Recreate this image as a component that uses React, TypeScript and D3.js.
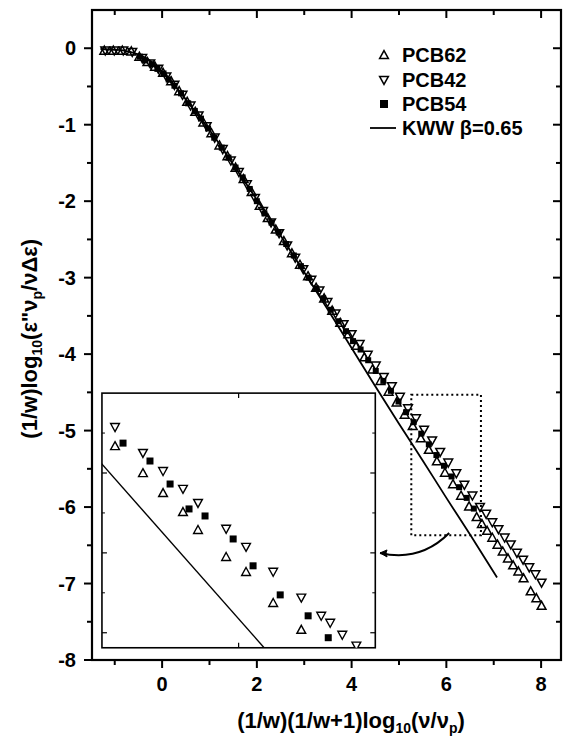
import React from "react";
import * as d3 from "d3";

const W = 563;
const H = 736;

// axis ticks
const xMajor = [0, 2, 4, 6, 8];
const xMinor = [-1, 1, 3, 5, 7];
const yMajor = [0, -1, -2, -3, -4, -5, -6, -7, -8];
const yMinor = [-0.5, -1.5, -2.5, -3.5, -4.5, -5.5, -6.5, -7.5];

// PCB62 (open up-triangles)
const pcb62X = [-1.22, -1.03, -0.84, -0.65, -0.48, -0.31, -0.15, 0.02, 0.19, 0.36, 0.53, 0.7, 0.87, 1.04, 1.21, 1.38, 1.55, 1.72, 1.89, 2.06, 2.23, 2.4, 2.57, 2.74, 2.91, 3.08, 3.25, 3.42, 3.59, 3.76, 3.93, 4.1, 4.27, 4.44, 4.61, 4.78, 4.95, 5.12, 5.29, 5.46, 5.63, 5.8, 5.97, 6.14, 6.31, 6.48, 6.64, 6.75, 6.86, 6.97, 7.08, 7.19, 7.3, 7.41, 7.52, 7.63, 7.78, 7.9, 8.01];
const pcb62Y = [-0.03, -0.03, -0.03, -0.04, -0.11, -0.18, -0.24, -0.32, -0.43, -0.56, -0.7, -0.83, -0.97, -1.11, -1.27, -1.41, -1.56, -1.71, -1.88, -2.06, -2.22, -2.37, -2.52, -2.68, -2.83, -2.98, -3.13, -3.27, -3.43, -3.59, -3.74, -3.89, -4.04, -4.2, -4.35, -4.49, -4.63, -4.79, -4.94, -5.1, -5.25, -5.4, -5.55, -5.7, -5.85, -5.99, -6.13, -6.22, -6.31, -6.4, -6.49, -6.58, -6.67, -6.76, -6.84, -6.93, -7.1, -7.19, -7.29];

// PCB42 (open down-triangles)
const pcb42X = [-1.2, -1.01, -0.82, -0.63, -0.42, -0.25, -0.08, 0.09, 0.26, 0.43, 0.6, 0.77, 0.94, 1.11, 1.28, 1.45, 1.62, 1.79, 1.96, 2.13, 2.3, 2.47, 2.64, 2.81, 2.98, 3.15, 3.32, 3.49, 3.66, 3.83, 4.0, 4.17, 4.34, 4.51, 4.68, 4.85, 5.02, 5.19, 5.36, 5.53, 5.7, 5.87, 6.04, 6.21, 6.38, 6.55, 6.71, 6.84, 6.97, 7.1, 7.23, 7.36, 7.49, 7.62, 7.75, 7.88, 8.01];
const pcb42Y = [-0.03, -0.03, -0.03, -0.05, -0.13, -0.2, -0.27, -0.37, -0.48, -0.61, -0.75, -0.88, -1.02, -1.17, -1.32, -1.47, -1.62, -1.78, -1.96, -2.13, -2.28, -2.42, -2.58, -2.74, -2.89, -3.03, -3.17, -3.32, -3.47, -3.61, -3.74, -3.87, -4.01, -4.15, -4.3, -4.42, -4.56, -4.71, -4.84, -4.99, -5.13, -5.28, -5.42, -5.56, -5.71, -5.85, -6.0, -6.09, -6.2, -6.29, -6.4, -6.49, -6.6, -6.69, -6.79, -6.88, -6.99];

// PCB54 (filled squares)
const pcb54X = [-0.47, -0.36, -0.22, -0.1, 0.03, 0.14, 0.26, 0.4, 0.55, 0.69, 0.82, 0.97, 1.1, 1.26, 1.4, 1.55, 1.7, 1.85, 2.0, 2.16, 2.31, 2.46, 2.62, 2.78, 2.93, 3.09, 3.25, 3.4, 3.56, 3.72, 3.88, 4.03, 4.19, 4.35, 4.51, 4.67, 4.83, 4.99, 5.15, 5.31, 5.47, 5.63, 5.79, 5.95, 6.11, 6.27, 6.43, 6.58];
const pcb54Y = [-0.11, -0.16, -0.21, -0.27, -0.33, -0.41, -0.49, -0.59, -0.72, -0.82, -0.92, -1.05, -1.17, -1.3, -1.43, -1.56, -1.69, -1.84, -2.0, -2.16, -2.28, -2.41, -2.56, -2.71, -2.85, -3.0, -3.14, -3.27, -3.42, -3.57, -3.7, -3.83, -3.94, -4.08, -4.22, -4.35, -4.48, -4.62, -4.76, -4.89, -5.04, -5.18, -5.32, -5.46, -5.6, -5.74, -5.88, -6.02];

// KWW beta=0.65 curve
const kwwX = [-1.3, -1.0, -0.8, -0.6, -0.4, -0.2, 0, 0.2, 0.4, 0.6, 0.8, 1.0, 1.25, 1.5, 1.75, 2.0, 2.5, 3.0, 3.5, 4.0, 4.5, 5.0, 5.5, 6.0, 6.5, 7.07];
const kwwY = [-0.01, -0.02, -0.03, -0.06, -0.11, -0.19, -0.31, -0.44, -0.59, -0.75, -0.91, -1.07, -1.29, -1.52, -1.75, -1.98, -2.45, -2.93, -3.42, -3.92, -4.42, -4.91, -5.39, -5.88, -6.36, -6.92];

// zoomed region (dotted box) and inset placement, in main-plot data units
const boxX = [5.26, 6.73];
const boxY = [-4.53, -6.37];
const insetPosX = [-1.27, 4.5];
const insetPosY = [-4.51, -7.84];
const arrowX = [6.06, 5.45, 4.6];
const arrowY = [-6.34, -6.72, -6.6];

// inset axes
const insetDomX = [5.3, 6.7];
const insetDomY = [-4.5, -6.094];
const insetXMajor = [6.0];
const insetYMajor = [-5.0, -5.5, -6.0];
const insetYMinor = [-4.75, -5.25, -5.75];

// inset data
const inPcb42X = [5.367, 5.51, 5.613, 5.715, 5.792, 5.936, 6.038, 6.177, 6.321, 6.423, 6.469, 6.531, 6.603];
const inPcb42Y = [-4.713, -4.875, -4.988, -5.1, -5.188, -5.35, -5.463, -5.619, -5.781, -5.894, -5.938, -6.013, -6.081];
const inPcb62X = [5.367, 5.51, 5.613, 5.715, 5.792, 5.936, 6.038, 6.177, 6.321];
const inPcb62Y = [-4.831, -5.0, -5.125, -5.244, -5.356, -5.525, -5.619, -5.813, -5.981];
const inPcb54X = [5.408, 5.546, 5.649, 5.746, 5.828, 5.972, 6.074, 6.213, 6.356, 6.459];
const inPcb54Y = [-4.813, -4.925, -5.069, -5.225, -5.269, -5.413, -5.581, -5.763, -5.894, -6.031];
const inKwwX = [5.25, 6.2];
const inKwwY = [-4.875, -6.19];

const legendLabels = ["PCB62", "PCB42", "PCB54", "KWW \u03b2=0.65"];

const FONT = "'Liberation Sans', Arial, Helvetica, sans-serif";

const triUp = (cx: number, cy: number, s: number) =>
  `M${cx},${cy - s * 0.55}L${cx + s * 0.55},${cy + s * 0.45}L${cx - s * 0.55},${cy + s * 0.45}Z`;
const triDown = (cx: number, cy: number, s: number) =>
  `M${cx},${cy + s * 0.55}L${cx + s * 0.55},${cy - s * 0.45}L${cx - s * 0.55},${cy - s * 0.45}Z`;

export default function App() {
  const x = d3.scaleLinear().domain([-1.48, 8.42]).range([92, 561]);
  const y = d3.scaleLinear().domain([-8, 0.5]).range([660, 10]);

  const x0 = x(-1.48), x1 = x(8.42), y0 = y(-8), y1 = y(0.5);

  const ix = d3.scaleLinear().domain(insetDomX).range([x(insetPosX[0]), x(insetPosX[1])]);
  const iy = d3.scaleLinear().domain(insetDomY).range([y(insetPosY[0]), y(insetPosY[1])]);
  const ixa = ix.range(), iya = iy.range();

  const line = d3.line<[number, number]>().x((d) => x(d[0])).y((d) => y(d[1])).curve(d3.curveMonotoneX);
  const kwwPath = line(kwwX.map((v, i) => [v, kwwY[i]]) as [number, number][]) || "";
  const iline = d3.line<[number, number]>().x((d) => ix(d[0])).y((d) => iy(d[1]));
  const inKwwPath = iline(inKwwX.map((v, i) => [v, inKwwY[i]]) as [number, number][]) || "";

  const arrowPath = `M${x(arrowX[0])},${y(arrowY[0])}Q${x(arrowX[1])},${y(arrowY[1])} ${x(arrowX[2])},${y(arrowY[2])}`;

  const ms = 8;
  const sq = 6;
  const legX = 384;
  const legTextX = 402;
  const legY = [55, 80, 104, 128];

  return (
    <svg
      width={W}
      height={H}
      viewBox={`0 0 ${W} ${H}`}
      style={{ position: "fixed", left: 0, top: 0, background: "#fff" }}
      fontFamily={FONT}
    >
      <defs>
        <clipPath id="insetClip">
          <rect x={ixa[0]} y={iya[0]} width={ixa[1] - ixa[0]} height={iya[1] - iya[0]} />
        </clipPath>
      </defs>
      <rect x={0} y={0} width={W} height={H} fill="#fff" />

      {/* KWW line */}
      <path d={kwwPath} fill="none" stroke="#000" strokeWidth={1.8} />

      {/* main data */}
      {pcb62X.map((v, i) => (
        <path key={"a" + i} d={triUp(x(v), y(pcb62Y[i]), ms)} fill="none" stroke="#000" strokeWidth={1.5} />
      ))}
      {pcb42X.map((v, i) => (
        <path key={"b" + i} d={triDown(x(v), y(pcb42Y[i]), ms)} fill="none" stroke="#000" strokeWidth={1.5} />
      ))}
      {pcb54X.map((v, i) => (
        <rect key={"c" + i} x={x(v) - sq / 2} y={y(pcb54Y[i]) - sq / 2} width={sq} height={sq} fill="#000" />
      ))}

      {/* dotted box */}
      <rect
        x={x(boxX[0])}
        y={y(boxY[0])}
        width={x(boxX[1]) - x(boxX[0])}
        height={y(boxY[1]) - y(boxY[0])}
        fill="none"
        stroke="#000"
        strokeWidth={2}
        strokeDasharray="2,3"
      />
      {/* curved arrow */}
      <path d={arrowPath} fill="none" stroke="#000" strokeWidth={2} />
      <path
        d={`M${x(arrowX[2])},${y(arrowY[2])}l7,-3l-1,3l1,4z`}
        fill="#000"
        stroke="#000"
        strokeWidth={1}
      />

      {/* inset */}
      <rect x={ixa[0]} y={iya[0]} width={ixa[1] - ixa[0]} height={iya[1] - iya[0]} fill="#fff" stroke="#000" strokeWidth={1.6} />
      <g clipPath="url(#insetClip)">
        <path d={inKwwPath} fill="none" stroke="#000" strokeWidth={1.4} />
        {inPcb62X.map((v, i) => (
          <path key={"ia" + i} d={triUp(ix(v), iy(inPcb62Y[i]), ms)} fill="#fff" stroke="#000" strokeWidth={1.4} />
        ))}
        {inPcb42X.map((v, i) => (
          <path key={"ib" + i} d={triDown(ix(v), iy(inPcb42Y[i]), ms)} fill="#fff" stroke="#000" strokeWidth={1.4} />
        ))}
        {inPcb54X.map((v, i) => (
          <rect key={"ic" + i} x={ix(v) - 3.5} y={iy(inPcb54Y[i]) - 3.5} width={7} height={7} fill="#000" />
        ))}
      </g>
      {insetXMajor.map((t) => (
        <g key={"ixt" + t}>
          <line x1={ix(t)} x2={ix(t)} y1={iya[1]} y2={iya[1] - 5} stroke="#000" strokeWidth={1.2} />
          <line x1={ix(t)} x2={ix(t)} y1={iya[0]} y2={iya[0] + 5} stroke="#000" strokeWidth={1.2} />
        </g>
      ))}
      {insetYMajor.map((t) => (
        <g key={"iyt" + t}>
          <line x1={ixa[0]} x2={ixa[0] + 5} y1={iy(t)} y2={iy(t)} stroke="#000" strokeWidth={1.2} />
          <line x1={ixa[1]} x2={ixa[1] - 5} y1={iy(t)} y2={iy(t)} stroke="#000" strokeWidth={1.2} />
        </g>
      ))}
      {insetYMinor.map((t) => (
        <g key={"iym" + t}>
          <line x1={ixa[0]} x2={ixa[0] + 3} y1={iy(t)} y2={iy(t)} stroke="#000" strokeWidth={1} />
          <line x1={ixa[1]} x2={ixa[1] - 3} y1={iy(t)} y2={iy(t)} stroke="#000" strokeWidth={1} />
        </g>
      ))}

      {/* frame */}
      <rect x={x0} y={y1} width={x1 - x0} height={y0 - y1} fill="none" stroke="#000" strokeWidth={2.2} />

      {/* x ticks */}
      {xMajor.map((t) => (
        <g key={"xt" + t}>
          <line x1={x(t)} x2={x(t)} y1={y0} y2={y0 + 8} stroke="#000" strokeWidth={2} />
          <line x1={x(t)} x2={x(t)} y1={y1} y2={y1 + 8} stroke="#000" strokeWidth={2} />
          <text x={x(t)} y={y0 + 31} textAnchor="middle" fontSize={20} fontWeight="bold">
            {t}
          </text>
        </g>
      ))}
      {xMinor.map((t) => (
        <g key={"xm" + t}>
          <line x1={x(t)} x2={x(t)} y1={y0} y2={y0 + 5} stroke="#000" strokeWidth={2} />
          <line x1={x(t)} x2={x(t)} y1={y1} y2={y1 + 5} stroke="#000" strokeWidth={2} />
        </g>
      ))}
      {/* y ticks */}
      {yMajor.map((t) => (
        <g key={"yt" + t}>
          <line x1={x0} x2={x0 - 8} y1={y(t)} y2={y(t)} stroke="#000" strokeWidth={2} />
          <line x1={x1} x2={x1 - 8} y1={y(t)} y2={y(t)} stroke="#000" strokeWidth={2} />
          <text x={x0 - 16} y={y(t) + 7} textAnchor="end" fontSize={20} fontWeight="bold">
            {t}
          </text>
        </g>
      ))}
      {yMinor.map((t) => (
        <g key={"ym" + t}>
          <line x1={x0} x2={x0 - 5} y1={y(t)} y2={y(t)} stroke="#000" strokeWidth={2} />
          <line x1={x1} x2={x1 - 5} y1={y(t)} y2={y(t)} stroke="#000" strokeWidth={2} />
        </g>
      ))}

      {/* legend */}
      <path d={triUp(legX, legY[0], ms)} fill="none" stroke="#000" strokeWidth={1.5} />
      <path d={triDown(legX, legY[1], ms)} fill="none" stroke="#000" strokeWidth={1.5} />
      <rect x={legX - 4} y={legY[2] - 4} width={8} height={8} fill="#000" />
      <line x1={legX - 14} x2={legX + 12} y1={legY[3]} y2={legY[3]} stroke="#000" strokeWidth={1.8} />
      {legendLabels.map((l, i) => (
        <text key={l} x={legTextX} y={legY[i] + 7} fontSize={20} fontWeight="bold">
          {l}
        </text>
      ))}

      {/* x title */}
      <text x={351} y={728} textAnchor="middle" fontSize={22} fontWeight="bold">
        (1/w)(1/w+1)log
        <tspan fontSize={14} dy={5}>10</tspan>
        <tspan dy={-5}>(ν/ν</tspan>
        <tspan fontSize={14} dy={5}>p</tspan>
        <tspan dy={-5}>)</tspan>
      </text>

      {/* y title */}
      <text
        transform={`translate(37, ${y(-3.8)}) rotate(-90)`}
        textAnchor="middle"
        fontSize={22}
        fontWeight="bold"
      >
        (1/w)log
        <tspan fontSize={14} dy={5}>10</tspan>
        <tspan dy={-5}>(ε"ν</tspan>
        <tspan fontSize={14} dy={5}>p</tspan>
        <tspan dy={-5}>/νΔε)</tspan>
      </text>
    </svg>
  );
}
